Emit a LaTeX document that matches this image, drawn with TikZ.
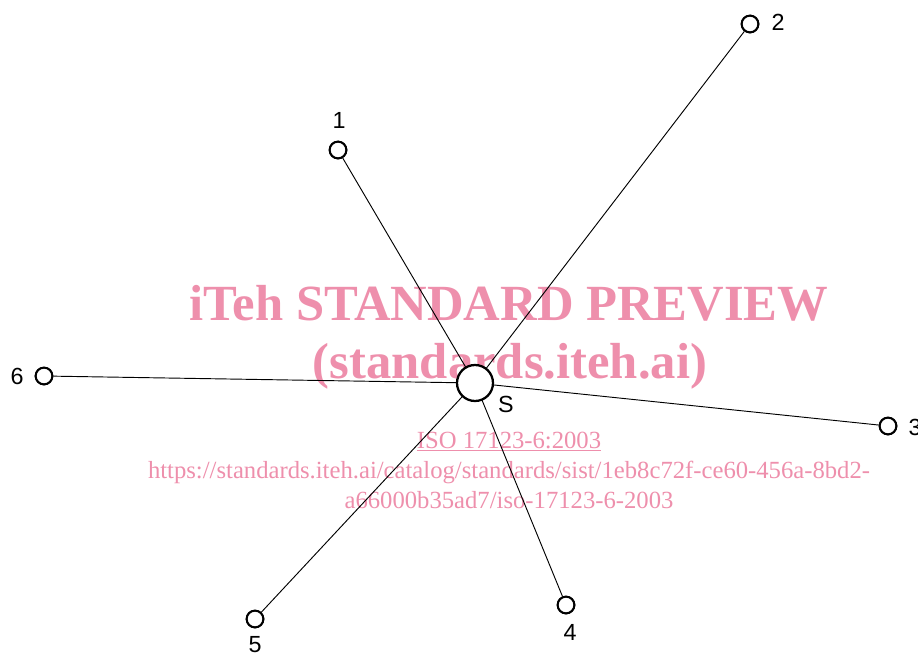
\documentclass[tikz,border=0pt]{standalone}
\usepackage{fontspec}
\setmainfont{Liberation Sans}
\newfontfamily\wmfont{Liberation Serif}
\definecolor{wm}{RGB}{238,143,172}
\begin{document}
\begin{tikzpicture}[x=0.75pt,y=-0.75pt,
  pt/.style={circle,draw,fill=white,line width=1.5pt,inner sep=0pt,minimum size=12.5pt},
  src/.style={circle,draw,fill=white,line width=1.7pt,inner sep=0pt,minimum size=27pt},
  lab/.style={inner sep=0pt,font=\fontsize{17.5}{20}\selectfont},
  conn/.style={line width=0.7pt},
  wmbig/.style={text=wm,inner sep=0pt,anchor=base,font=\wmfont\bfseries\fontsize{38}{44}\selectfont},
  wmsmall/.style={text=wm,inner sep=0pt,anchor=base,font=\wmfont\fontsize{18.5}{22}\selectfont}]
\useasboundingbox (0,0) rectangle (918,657);
% watermark
\node[wmbig] (w1) at (509,320) {iTeh STANDARD PREVIEW};
\node[wmbig] (w2) at (510,378) {(standards.iteh.ai)};
\node[wmsmall] (w3) at (509,448) {\underline{ISO 17123-6:2003}};
\node[wmsmall] (w4) at (509,478) {https://standards.iteh.ai/catalog/standards/sist/1eb8c72f-ce60-456a-8bd2-};
\node[wmsmall] (w5) at (509,508) {a66000b35ad7/iso-17123-6-2003};
% nodes
\coordinate (sc) at (475,383);
\node[pt] (n1) at (338,150) {};
\node[pt] (n2) at (750,24) {};
\node[pt] (n3) at (888,426) {};
\node[pt] (n4) at (566,605) {};
\node[pt] (n5) at (255,619) {};
\node[pt] (n6) at (44,376) {};
\draw[conn] (sc) -- (n1);
\draw[conn] (sc) -- (n2);
\draw[conn] (sc) -- (n3);
\draw[conn] (sc) -- (n4);
\draw[conn] (sc) -- (n5);
\draw[conn] (sc) -- (n6);
\node[pt] at (n1) {};
\node[pt] at (n2) {};
\node[pt] at (n3) {};
\node[pt] at (n4) {};
\node[pt] at (n5) {};
\node[pt] at (n6) {};
\node[src] (S) at (sc) {};
% labels
\node[lab] (l1) at (339,120) {1};
\node[lab] (l2) at (778,22) {2};
\node[lab] (l3) at (915,427) {3};
\node[lab] (l4) at (570,632) {4};
\node[lab] (l5) at (255,645) {5};
\node[lab] (l6) at (17,376) {6};
\node[lab] (lS) at (506,404) {S};
\end{tikzpicture}
\end{document}
